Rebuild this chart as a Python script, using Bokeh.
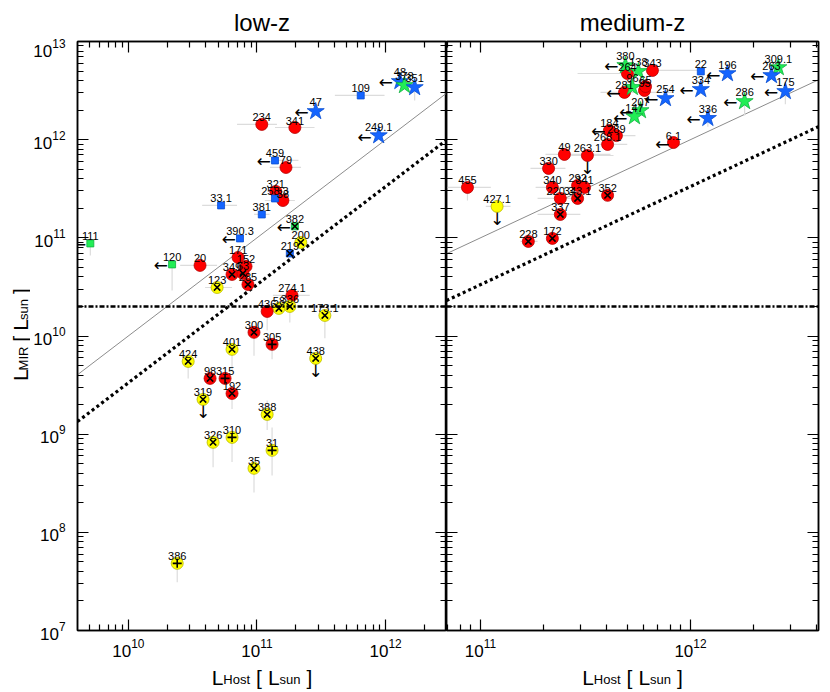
import math
from bokeh.plotting import figure
from bokeh.models import Span, LogAxis, Range1d, FixedTicker
from bokeh.layouts import row, column
from bokeh.core.properties import value
from bokeh.embed import file_html
from bokeh.resources import INLINE

# ---------------- low-z panel ----------------
low_name = ["47", "234", "341", "459", "79", "321", "258.3", "38", "33.1", "381",
            "382", "390.3", "111", "200", "219", "171", "120", "20", "152", "349",
            "63", "285", "123", "274.1", "336", "58", "436", "173.1", "300", "305",
            "401", "424", "438", "98", "315", "192", "319", "388", "310", "326",
            "31", "35", "386", "109", "48", "378", "351", "249.1"]
low_host = [2.86e11, 1.09e11, 1.97e11, 1.38e11, 1.68e11, 1.40e11, 1.38e11, 1.59e11, 5.26e10, 1.09e11,
            1.97e11, 7.38e10, 5.07e9, 2.19e11, 1.80e11, 7.13e10, 2.19e10, 3.61e10, 8.22e10, 6.40e10,
            7.78e10, 8.51e10, 4.90e10, 1.87e11, 1.80e11, 1.48e11, 1.20e11, 3.37e11, 9.48e10, 1.31e11,
            6.40e10, 2.92e10, 2.86e11, 4.32e10, 5.65e10, 6.40e10, 3.81e10, 1.20e11, 6.40e10, 4.56e10,
            1.31e11, 9.48e10, 2.40e10, 6.40e11, 1.29e12, 1.40e12, 1.68e12, 8.83e11]
low_mir = [1.94e12, 1.43e12, 1.33e12, 6.14e11, 5.21e11, 2.97e11, 2.52e11, 2.40e11, 2.14e11, 1.73e11,
           1.31e11, 9.87e10, 8.77e10, 8.97e10, 6.93e10, 6.31e10, 5.36e10, 5.24e10, 5.12e10, 4.24e10,
           4.34e10, 3.35e10, 3.12e10, 2.59e10, 2.00e10, 1.91e10, 1.78e10, 1.62e10, 1.09e10, 8.22e9,
           7.31e9, 5.51e9, 5.91e9, 3.70e9, 3.70e9, 2.60e9, 2.26e9, 1.59e9, 9.27e8, 8.26e8,
           6.84e8, 4.49e8, 4.83e7, 2.82e12, 3.92e12, 3.57e12, 3.40e12, 1.10e12]
low_shape = ["star", "circle", "circle", "square", "circle", "circle", "square", "circle", "square", "square",
             "square", "square", "square", "circle", "square", "circle", "square", "circle", "circle", "circle",
             "circle", "circle", "circle", "circle", "circle", "circle", "circle", "circle", "circle", "circle",
             "circle", "circle", "circle", "circle", "circle", "circle", "circle", "circle", "circle", "circle",
             "circle", "circle", "circle", "square", "star", "star", "star", "star"]
low_color = ["blue", "red", "red", "blue", "red", "red", "blue", "red", "blue", "blue",
             "green", "blue", "green", "yellow", "blue", "red", "green", "red", "red", "red",
             "red", "red", "yellow", "red", "yellow", "yellow", "red", "yellow", "red", "red",
             "yellow", "yellow", "yellow", "red", "red", "red", "yellow", "yellow", "yellow", "yellow",
             "yellow", "yellow", "yellow", "blue", "blue", "green", "blue", "blue"]
low_inner = ["", "", "", "", "", "", "", "", "", "",
             "x", "", "", "x", "x", "", "", "", "", "x",
             "x", "x", "x", "", "x", "x", "", "x", "x", "+",
             "x", "x", "x", "x", "+", "x", "x", "x", "+", "x",
             "+", "x", "+", "", "", "", "", ""]
low_host_limit = ["47", "459", "382", "390.3", "111", "120", "48", "249.1"]
low_mir_limit = ["438", "319"]
low_xerr = {"234": (7.0e10, 1.43e11), "341": (1.38e11, 2.8e11), "109": (4.03e11, 9.8e11),
            "33.1": (3.75e10, 7.0e10), "79": (1.26e11, 2.2e11), "38": (1.15e11, 1.97e11),
            "20": (2.53e10, 4.9e10), "123": (3.95e10, 6.4e10), "274.1": (1.33e11, 2.57e11),
            "459": (1.3e11, 2.1e11), "381": (9.5e10, 1.25e11)}
low_yerr = {"120": (2.91e10, 5.36e10), "111": (6.6e10, 8.77e10), "300": (6.3e9, 1.24e10),
            "305": (5.8e9, 8.22e9), "401": (4.47e9, 7.31e9), "424": (3.7e9, 5.51e9),
            "173.1": (9.5e9, 1.62e10), "192": (1.8e9, 2.6e9), "388": (1.1e9, 2.2e9),
            "310": (5.2e8, 9.27e8), "326": (4.6e8, 8.26e8), "31": (3.8e8, 1.17e9),
            "35": (2.55e8, 4.49e8), "386": (3.1e7, 4.83e7), "351": (2.5e12, 3.4e12),
            "436": (1.14e10, 1.78e10), "336": (1.37e10, 2.0e10)}

# ---------------- medium-z panel ----------------
med_name = ["380", "138", "343", "264", "22", "196", "309.1", "263", "175", "334",
            "286", "336", "254", "207", "147", "281", "96", "95", "65", "184",
            "289", "268.1", "6.1", "49", "263.1", "330", "455", "340", "292", "341",
            "352", "220.3", "343.1", "337", "228", "172", "427.1"]
med_host = [4.90e11, 5.65e11, 6.59e11, 5.01e11, 1.12e12, 1.50e12, 2.62e12, 2.43e12, 2.83e12, 1.12e12,
            1.81e12, 1.21e12, 7.60e11, 5.78e11, 5.41e11, 4.85e11, 5.29e11, 6.04e11, 6.11e11, 4.11e11,
            4.44e11, 4.03e11, 8.30e11, 2.51e11, 3.23e11, 2.11e11, 8.67e10, 2.20e11, 2.90e11, 3.13e11,
            4.03e11, 2.40e11, 2.90e11, 2.40e11, 1.69e11, 2.20e11, 1.20e11]
med_mir = [5.70e12, 4.96e12, 5.07e12, 4.72e12, 4.96e12, 4.72e12, 5.43e12, 4.51e12, 3.10e12, 3.25e12,
           2.45e12, 1.65e12, 2.63e12, 1.98e12, 1.72e12, 3.03e12, 3.41e12, 3.17e12, 3.48e12, 1.24e12,
           1.10e12, 8.94e11, 9.35e11, 7.07e11, 6.90e11, 5.09e11, 3.26e11, 3.26e11, 3.42e11, 3.26e11,
           2.71e11, 2.52e11, 2.52e11, 1.73e11, 9.19e10, 9.87e10, 2.09e11]
med_shape = ["star", "star", "circle", "circle", "square", "star", "star", "star", "star", "star",
             "star", "star", "star", "star", "star", "circle", "star", "circle", "circle", "circle",
             "circle", "circle", "circle", "circle", "circle", "circle", "circle", "circle", "circle", "circle",
             "circle", "circle", "circle", "circle", "circle", "circle", "circle"]
med_color = ["green", "green", "red", "red", "blue", "blue", "green", "blue", "blue", "blue",
             "green", "blue", "blue", "green", "green", "red", "green", "red", "red", "red",
             "red", "red", "red", "red", "red", "red", "red", "red", "red", "red",
             "red", "red", "red", "red", "red", "red", "yellow"]
med_inner = ["", "", "", "", "", "", "", "", "", "",
             "", "", "", "", "", "", "", "", "", "",
             "", "", "", "", "", "", "", "", "", "",
             "x", "", "x", "x", "x", "x", ""]
med_host_limit = ["380", "196", "263", "175", "334", "286", "336", "254", "207", "147", "281", "184", "6.1"]
med_mir_limit = ["263.1", "427.1"]
med_xerr = {"455": (6.5e10, 1.12e11), "427.1": (1.06e11, 1.39e11), "49": (2.04e11, 4.16e11),
            "263.1": (2.7e11, 4.3e11), "330": (1.73e11, 2.54e11), "340": (1.83e11, 3.0e11),
            "220.3": (1.87e11, 2.99e11), "337": (1.87e11, 2.99e11), "228": (1.55e11, 1.87e11),
            "268.1": (3.7e11, 5.0e11), "289": (3.73e11, 5.47e11), "343": (5.01e11, 1.12e12),
            "281": (3.73e11, 8.3e11), "264": (2.9e11, 5.8e11)}
med_yerr = {"455": (2.4e11, 3.26e11), "286": (1.76e12, 2.45e12), "175": (2.3e12, 3.1e12),
            "336": (1.35e12, 1.65e12)}

# reference relations and limits
MIR_LIMIT = 2e10          # horizontal dash-dot line
ONE_TO_ONE = 1.0          # thin grey line  L_MIR = L_Host
DOTTED_RATIO = 1.0 / 3.0  # thick dotted line

LOW_X = (4.03e9, 2.97e12)
MED_X = (6.89e10, 4.07e12)
Y_RANGE = (1e7, 1e13)
LOW_DECADES = [10, 11, 12]
MED_DECADES = [11, 12]
Y_DECADES = [7, 8, 9, 10, 11, 12, 13]

FILL = {"red": "#ff0000", "yellow": "#ffff00", "blue": "#1464ff", "green": "#22ee55"}
EDGE = {"red": "#b40000", "yellow": "#b8b800", "blue": "#0a4fd0", "green": "#10b040"}
SIZE = {"circle": 12, "square": 7, "star": 18}
FONT = "Liberation Sans"

# layout (pixels)
W_TOTAL = 830
H_TITLE = 38
H_MAIN = 624
H_XLAB = 30
W_YLAB = 30
W_P1 = 416
W_P2 = 384
FRAME_H = 589
CHAR_W = {"L": 0.556, "H": 0.722, "o": 0.556, "s": 0.5, "t": 0.278, "u": 0.556, "n": 0.556,
          "M": 0.833, "I": 0.278, "R": 0.722, "[": 0.278, "]": 0.278}


def text_width(t, s):
    return sum(CHAR_W.get(c, 0.55) for c in t) * s


def ticker(decades, lo, hi):
    major = [10.0 ** d for d in decades]
    minor = []
    for d in range(int(math.floor(math.log10(lo))), int(math.ceil(math.log10(hi))) + 1):
        for k in range(2, 10):
            v = k * 10.0 ** d
            if lo <= v <= hi:
                minor.append(v)
    return FixedTicker(ticks=major, minor_ticks=minor)


def deco_figure(w, h):
    f = figure(width=w, height=h, x_range=Range1d(0, w), y_range=Range1d(0, h),
               output_backend="svg", toolbar_location=None, title=None,
               x_axis_location=None, y_axis_location=None,
               min_border_left=0, min_border_right=0, min_border_top=0, min_border_bottom=0)
    f.grid.visible = False
    f.outline_line_color = None
    f.background_fill_color = "white"
    f.border_fill_color = "white"
    return f


def compose(f, pieces, c, base, vertical=False):
    # pieces: (text, size, is_sub, gap_before)
    total = sum(text_width(t, s) + g for t, s, sub, g in pieces)
    pos = c - total / 2
    for t, s, sub, g in pieces:
        pos += g
        w = text_width(t, s)
        if vertical:
            f.text(x=[base + (3 if sub else 0)], y=[pos + w / 2], text=[t], angle=math.pi / 2,
                   text_font=value(FONT), text_font_size=f"{s}px", text_color="black",
                   text_align="center", text_baseline="middle")
        else:
            f.text(x=[pos], y=[base - (2 if sub else 0)], text=[t],
                   text_font=value(FONT), text_font_size=f"{s}px", text_color="black",
                   text_align="left", text_baseline="alphabetic")
        pos += w


def style_axis(ax, labels=True):
    ax.major_tick_in = 11
    ax.major_tick_out = 0
    ax.minor_tick_in = 6
    ax.minor_tick_out = 0
    ax.axis_line_color = "black"
    ax.axis_line_width = 1.5
    ax.major_tick_line_color = "black"
    ax.major_tick_line_width = 1.2
    ax.minor_tick_line_color = "black"
    ax.minor_tick_line_width = 1.2
    if labels:
        ax.major_label_text_font = FONT
        ax.major_label_text_font_size = "17px"
        ax.major_label_text_color = "black"
        ax.major_label_standoff = 8
    else:
        ax.major_label_text_font_size = "1px"
        ax.major_label_text_alpha = 0
        ax.major_label_standoff = 0


def make_panel(xr, decades, width, left_border, right_border, show_y):
    p = figure(width=width, height=H_MAIN, x_axis_type="log", y_axis_type="log",
               x_range=Range1d(*xr), y_range=Range1d(*Y_RANGE), title=None,
               output_backend="svg", toolbar_location=None,
               min_border_left=left_border, min_border_right=right_border,
               min_border_top=3, min_border_bottom=32)
    p.grid.visible = False
    p.outline_line_color = "black"
    p.outline_line_width = 1.5
    p.background_fill_color = "white"
    p.border_fill_color = "white"
    bottom = p.below[0]
    left = p.left[0]
    top = LogAxis()
    right = LogAxis()
    style_axis(bottom, True)
    style_axis(left, show_y)
    if show_y:
        left.major_label_standoff = 12
    style_axis(top, False)
    style_axis(right, False)
    p.add_layout(top, "above")
    p.add_layout(right, "right")
    xt = ticker(decades, *xr)
    yt = ticker(Y_DECADES, *Y_RANGE)
    bottom.ticker = xt
    top.ticker = xt
    left.ticker = yt
    right.ticker = yt
    return p


def draw(p, xr, name, host, mir, shape, color, inner, host_lim, mir_lim, xerr, yerr):
    # reference lines
    lx = list(xr)
    p.line(lx, [v * ONE_TO_ONE for v in lx], line_color="#8c8c8c", line_width=1)
    p.line(lx, [v * DOTTED_RATIO for v in lx], line_color="black", line_width=3.2, line_dash="3 3")
    p.add_layout(Span(location=MIR_LIMIT, dimension="width", line_color="black",
                      line_width=2.5, line_dash="5 2 2 2"))
    # error bars
    ex0, ex1, ey = [], [], []
    for n, (lo, hi) in xerr.items():
        i = name.index(n)
        ex0.append(lo); ex1.append(hi); ey.append(mir[i])
    p.segment(x0=ex0, y0=ey, x1=ex1, y1=ey, line_color="#dcdcdc", line_width=1.2)
    vx, vy0, vy1 = [], [], []
    for n, (lo, hi) in yerr.items():
        i = name.index(n)
        vx.append(host[i]); vy0.append(lo); vy1.append(hi)
    p.segment(x0=vx, y0=vy0, x1=vx, y1=vy1, line_color="#dcdcdc", line_width=1.2)
    # markers
    for shp in ["circle", "square", "star"]:
        idx = [i for i, s in enumerate(shape) if s == shp]
        if not idx:
            continue
        p.scatter(x=[host[i] for i in idx], y=[mir[i] for i in idx], marker=shp,
                  size=SIZE[shp], fill_color=[FILL[color[i]] for i in idx],
                  line_color=[EDGE[color[i]] for i in idx], line_width=0.8)
    for sym, mk in [("x", "x"), ("+", "cross")]:
        idx = [i for i, s in enumerate(inner) if s == sym]
        if idx:
            p.scatter(x=[host[i] for i in idx], y=[mir[i] for i in idx], marker=mk,
                      size=9, line_color="black", line_width=1.6)
    # upper-limit arrows
    hi_ = [name.index(n) for n in host_lim]
    p.text(x=[host[i] for i in hi_], y=[mir[i] for i in hi_], text=["←"] * len(hi_),
           text_font=value("DejaVu Sans"), text_font_size="17px", text_color="black",
           text_align="right", text_baseline="middle",
           x_offset=[-7 if shape[i] == "star" else -4 for i in hi_], y_offset=1)
    mi_ = [name.index(n) for n in mir_lim]
    p.text(x=[host[i] for i in mi_], y=[mir[i] for i in mi_], text=["↓"] * len(mi_),
           text_font=value("DejaVu Sans"), text_font_size="17px", text_color="black",
           text_align="center", text_baseline="top", y_offset=3)
    # name labels
    p.text(x=host, y=mir, text=name, text_font=value(FONT), text_font_size="11px",
           text_color="black", text_align="center", text_baseline="alphabetic",
           y_offset=[-9 if s == "star" else -7 for s in shape])


p1 = make_panel(LOW_X, LOW_DECADES, W_P1, 47, 0, True)
p2 = make_panel(MED_X, MED_DECADES, W_P2, 0, 12, False)

draw(p1, LOW_X, low_name, low_host, low_mir, low_shape, low_color, low_inner,
     low_host_limit, low_mir_limit, low_xerr, low_yerr)
draw(p2, MED_X, med_name, med_host, med_mir, med_shape, med_color, med_inner,
     med_host_limit, med_mir_limit, med_xerr, med_yerr)

# frame centres on the page
C1 = W_YLAB + 47 + 369 / 2
C2 = W_YLAB + W_P1 + 372 / 2

ftitle = deco_figure(W_TOTAL, H_TITLE)
ftitle.text(x=[C1, C2], y=[16] * 2, text=["low-z", "medium-z"],
            text_font=value(FONT), text_font_size="24px", text_color="black",
            text_align="center", text_baseline="alphabetic")

fx = deco_figure(W_TOTAL, H_XLAB)
xlab = [("L", 21, False, 0), ("Host", 13, True, 0), ("[", 21, False, 6),
        ("L", 21, False, 6), ("sun", 13, True, 0), ("]", 21, False, 6)]
compose(fx, xlab, C1, 15)
compose(fx, xlab, C2, 15)

fy = deco_figure(W_YLAB, H_MAIN)
ylab = [("L", 21, False, 0), ("MIR", 13, True, 0), ("[", 21, False, 6),
        ("L", 21, False, 6), ("sun", 13, True, 0), ("]", 21, False, 6)]
compose(fy, ylab, H_MAIN - 3 - FRAME_H / 2 - 13, 20, vertical=True)

layout = column(ftitle, row(fy, p1, p2), fx)
open("out.html", "w").write(file_html(layout, INLINE))
